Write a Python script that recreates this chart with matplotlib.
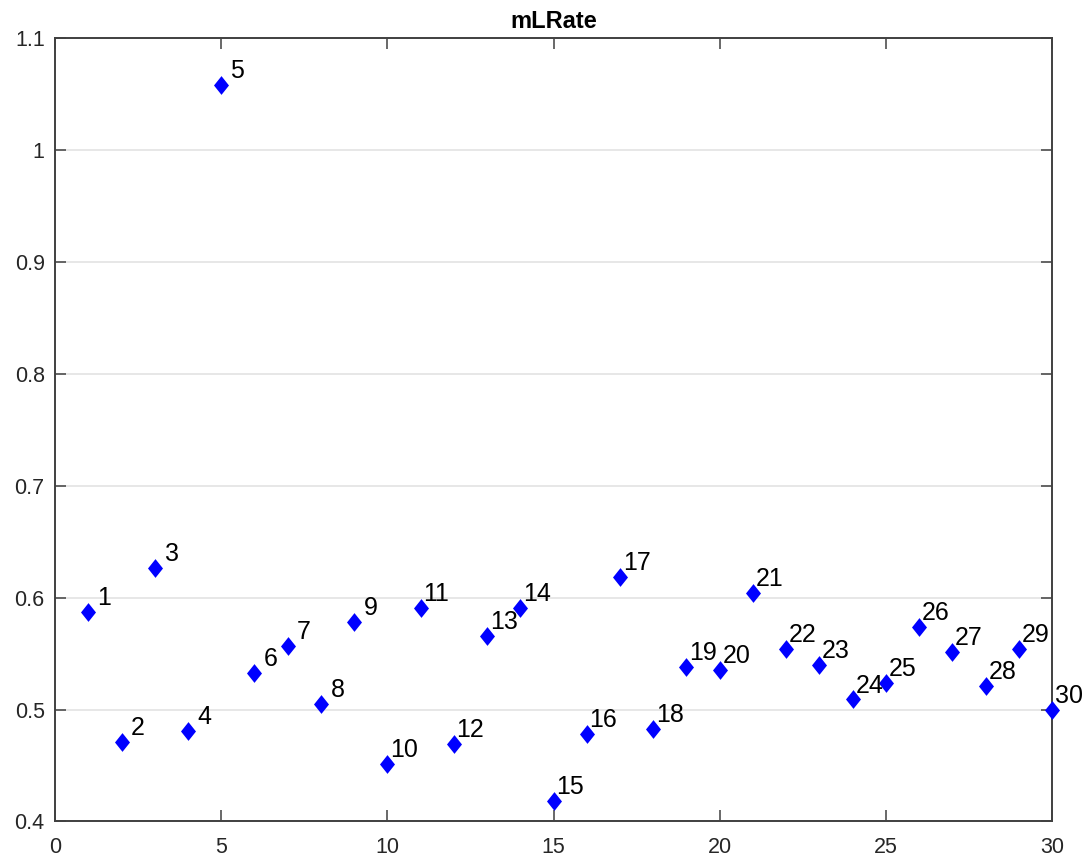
"""mLRate scatter, recreated in matplotlib (MATLAB-style look)."""
import matplotlib
matplotlib.use('Agg')
import matplotlib.pyplot as plt

# ── Data ──────────────────────────────────────────────────────────────────────
idx = list(range(1, 31))
ml_rate = [0.587, 0.471, 0.626, 0.481, 1.058, 0.533, 0.557, 0.505, 0.578, 0.451,
           0.591, 0.469, 0.566, 0.591, 0.418, 0.478, 0.618, 0.483, 0.538, 0.535,
           0.604, 0.554, 0.540, 0.509, 0.524, 0.574, 0.551, 0.521, 0.554, 0.500]
x_ticks = [0, 5, 10, 15, 20, 25, 30]
y_ticks = [0.4, 0.5, 0.6, 0.7, 0.8, 0.9, 1.0, 1.1]
y_tick_labels = ['0.4', '0.5', '0.6', '0.7', '0.8', '0.9', '1', '1.1']

# ── Style ─────────────────────────────────────────────────────────────────────
plt.rcParams['font.family'] = ['Liberation Sans', 'DejaVu Sans']
AX_COL = '#404040'
diamond = [(-0.4, 0), (0, 0.5), (0.4, 0), (0, -0.5)]

fig = plt.figure(figsize=(10.88, 8.65), dpi=100)
ax = fig.add_axes([0.0506, 0.0503, 0.9163, 0.9061])

ax.plot(idx, ml_rate, linestyle='none', marker=diamond, markersize=13.5,
        color='#0000ff', markeredgewidth=0, zorder=3, clip_on=False)
for i, v in zip(idx, ml_rate):
    ax.annotate(f'{i:2d}', (i, v), xytext=(2, 5), textcoords='offset points',
                ha='left', va='baseline', fontsize=18, color='black',
                annotation_clip=False, zorder=4)

ax.set_xlim(0, 30)
ax.set_ylim(0.4, 1.1)
ax.set_xticks(x_ticks)
ax.set_yticks(y_ticks)
ax.set_yticklabels(y_tick_labels)
ax.yaxis.grid(True, color='#e3e3e3', lw=1.2)
ax.set_axisbelow(True)
ax.tick_params(direction='in', length=8, width=1.1, color=AX_COL,
               labelsize=15.5, labelcolor='#262626', top=True, right=True)
ax.tick_params(axis='x', pad=11)
ax.tick_params(axis='y', pad=7.5)
for sp in ax.spines.values():
    sp.set_color(AX_COL)
    sp.set_linewidth(1.4)

ax.set_title('mLRate', fontsize=17, fontweight='bold', pad=7)

fig.savefig('out.png', dpi=100)
